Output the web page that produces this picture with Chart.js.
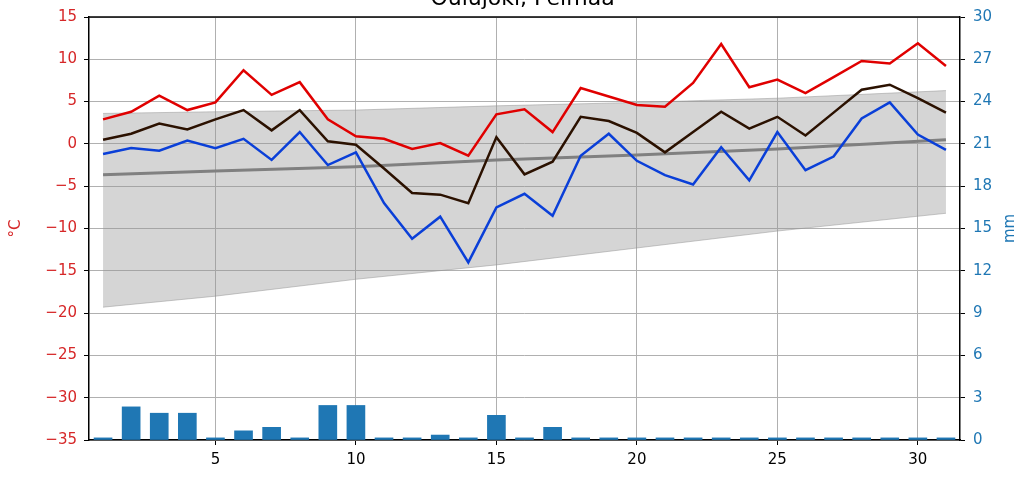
<!DOCTYPE html>
<html>
<head>
<meta charset="utf-8">
<script src="https://cdn.jsdelivr.net/npm/chart.js@4.4.1/dist/chart.umd.min.js"></script>
<style>
  body { margin: 0; background: #fff; }
  #wrap { width: 1034px; height: 484px; position: relative; }
</style>
</head>
<body>
<div id="wrap"><canvas id="myChart"></canvas></div>
<script>
var chartTitle = "Oulujoki, Pelmaa";
var days = [1,2,3,4,5,6,7,8,9,10,11,12,13,14,15,16,17,18,19,20,21,22,23,24,25,26,27,28,29,30,31];
var xTicks = [5, 10, 15, 20, 25, 30];

// daily max / mean / min temperature (°C)
var tMax = [2.9,3.8,5.7,4.0,4.9,8.7,5.8,7.3,2.9,0.9,0.6,-0.6,0.1,-1.4,3.5,4.1,1.4,6.6,5.6,4.6,4.4,7.2,11.8,6.7,7.6,6.0,7.9,9.8,9.5,11.9,9.2];
var tMean = [0.5,1.2,2.4,1.7,2.9,4.0,1.6,4.0,0.3,-0.1,-2.9,-5.8,-6.0,-7.0,0.8,-3.6,-2.1,3.2,2.7,1.3,-1.0,1.4,3.8,1.8,3.2,1.0,3.7,6.4,7.0,5.4,3.7];
var tMin = [-1.2,-0.5,-0.8,0.4,-0.5,0.6,-1.9,1.4,-2.5,-1.0,-7.0,-11.2,-8.6,-14.0,-7.5,-5.9,-8.5,-1.4,1.2,-2.0,-3.7,-4.8,-0.4,-4.3,1.4,-3.1,-1.5,3.0,4.9,1.1,-0.7];

// long-term mean and range (read at a few days)
var normDays = [1, 5, 10, 15, 20, 25, 31];
var normMean = [-3.65, -3.2, -2.7, -1.9, -1.3, -0.6, 0.5];
var normHigh = [3.6, 3.8, 4.0, 4.5, 4.9, 5.4, 6.3];
var normLow = [-19.3, -18.0, -16.0, -14.3, -12.3, -10.3, -8.2];

// precipitation (mm)
var precip = [0.15,2.35,1.9,1.9,0.15,0.65,0.9,0.15,2.45,2.45,0.15,0.15,0.35,0.15,1.75,0.15,0.9,0.15,0.15,0.15,0.15,0.15,0.15,0.15,0.15,0.15,0.15,0.15,0.15,0.15,0.15];

function pts(xs, ys) {
    return xs.map(function(x, i) { return {x: x, y: ys[i]}; });
}
function minus(v) {
    return String(v).replace('-', '\u2212');
}

var FONT = "'DejaVu Sans', sans-serif";

var extras = {
    id: 'extras',
    afterDraw: function(chart) {
        var ctx = chart.ctx, a = chart.chartArea;
        ctx.save();
        // top spine
        ctx.strokeStyle = '#000';
        ctx.lineWidth = 1.5;
        ctx.beginPath();
        ctx.moveTo(a.left, a.top);
        ctx.lineTo(a.right, a.top);
        ctx.stroke();
        // title (cut at the top edge)
        ctx.fillStyle = '#000';
        ctx.font = '22px ' + FONT;
        ctx.textAlign = 'center';
        ctx.textBaseline = 'alphabetic';
        ctx.fillText(chartTitle, (a.left + a.right) / 2 - 2, 5);
        // axis labels, reading upwards
        ctx.font = '15px ' + FONT;
        ctx.textBaseline = 'middle';
        ctx.save();
        ctx.translate(16, (a.top + a.bottom) / 2);
        ctx.rotate(-Math.PI / 2);
        ctx.fillStyle = '#d62728';
        ctx.fillText('°C', 0, 0);
        ctx.restore();
        ctx.translate(1010, (a.top + a.bottom) / 2);
        ctx.rotate(-Math.PI / 2);
        ctx.fillStyle = '#1f77b4';
        ctx.fillText('mm', 0, 0);
        ctx.restore();
    }
};

new Chart("myChart", {
    type: 'bar',
    data: {
        datasets: [{
            type: 'line',
            data: pts(normDays, normHigh),
            borderColor: 'rgba(150,150,150,0.5)',
            borderWidth: 1,
            pointRadius: 0,
            fill: false,
            order: 10
        }, {
            type: 'line',
            data: pts(normDays, normLow),
            borderColor: 'rgba(150,150,150,0.5)',
            borderWidth: 1,
            backgroundColor: 'rgba(150,150,150,0.4)',
            pointRadius: 0,
            fill: '-1',
            order: 9
        }, {
            type: 'bar',
            data: pts(days, precip),
            yAxisID: 'y1',
            backgroundColor: '#1f77b4',
            barThickness: 18,
            order: 8
        }, {
            type: 'line',
            data: pts(normDays, normMean),
            borderColor: '#808080',
            borderWidth: 3,
            pointRadius: 0,
            fill: false,
            order: 5
        }, {
            type: 'line',
            data: pts(days, tMin),
            borderColor: '#0a3fd8',
            borderWidth: 2.5,
            pointRadius: 0,
            fill: false,
            order: 3
        }, {
            type: 'line',
            data: pts(days, tMean),
            borderColor: '#2b1100',
            borderWidth: 2.5,
            pointRadius: 0,
            fill: false,
            order: 2
        }, {
            type: 'line',
            data: pts(days, tMax),
            borderColor: '#e00000',
            borderWidth: 2.5,
            pointRadius: 0,
            fill: false,
            order: 1
        }]
    },
    options: {
        responsive: true,
        maintainAspectRatio: false,
        animation: false,
        layout: { padding: { top: 13 } },
        plugins: {
            legend: { display: false },
            tooltip: { enabled: false },
            title: { display: false }
        },
        scales: {
            x: {
                type: 'linear',
                min: 0.5,
                max: 31.5,
                offset: false,
                afterBuildTicks: function(scale) {
                    scale.ticks = xTicks.map(function(v) { return {value: v}; });
                },
                afterFit: function(scale) { scale.height = 44; },
                grid: { offset: false, color: '#b0b0b0', lineWidth: 1, tickColor: '#000', tickLength: 5 },
                border: { color: '#000', width: 1.5 },
                ticks: { color: '#000', padding: 6, font: { size: 15, family: FONT } }
            },
            y: {
                position: 'left',
                min: -35,
                max: 15,
                afterFit: function(scale) { scale.width = 89; },
                grid: { color: '#b0b0b0', lineWidth: 1, tickColor: '#000', tickLength: 5 },
                border: { color: '#000', width: 1.5 },
                ticks: {
                    stepSize: 5,
                    color: '#d62728',
                    padding: 7,
                    font: { size: 15, family: FONT },
                    callback: function(v) { return minus(v); }
                }
            },
            y1: {
                position: 'right',
                min: 0,
                max: 30,
                afterFit: function(scale) { scale.width = 74; },
                grid: { drawOnChartArea: false, tickColor: '#000', tickLength: 5 },
                border: { color: '#000', width: 1.5 },
                ticks: {
                    stepSize: 3,
                    color: '#1f77b4',
                    padding: 8,
                    font: { size: 15, family: FONT }
                }
            }
        }
    },
    plugins: [extras]
});
</script>
</body>
</html>
